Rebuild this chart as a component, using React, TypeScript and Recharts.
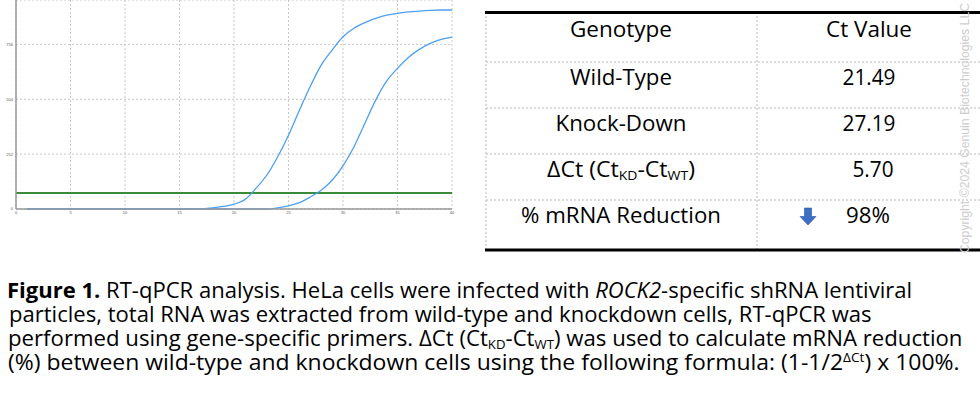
import React, { useLayoutEffect, useRef, useState } from 'react';
import { LineChart, Line, XAxis, YAxis, CartesianGrid, ReferenceLine } from 'recharts';

const cycles = [1, 2, 3, 4, 5, 6, 7, 8, 9, 10, 11, 12, 13, 14, 15, 16, 17, 18, 19, 20, 21, 22, 23, 24, 25, 26, 27, 28, 29, 30, 31, 32, 33, 34, 35, 36, 37, 38, 39, 40];
const wildType = [0, 0, 0, 0, 0, 0, 0, 0, 0, 0, 0, 0, 0, 0, 0, 0, 0, 5, 12, 22, 43, 94, 155, 239, 339, 454, 564, 661, 730, 791, 830, 856, 876, 890, 899, 905, 909, 912, 914, 914];
const knockDown = [0, 0, 0, 0, 0, 0, 0, 0, 0, 0, 0, 0, 0, 0, 0, 0, 0, 0, 0, 0, 0, 0, 0, 5, 14, 29, 55, 86, 132, 198, 285, 393, 500, 587, 646, 696, 733, 761, 779, 790];
const threshold = 74;
const xTicks = [0, 5, 10, 15, 20, 25, 30, 35, 40];
const yTicks = [0, 252, 504, 756];

const tableHeader = ['Genotype', 'Ct Value'];
const genotypes = ['Wild-Type', 'Knock-Down'];
const ctValues = ['21.49', '27.19'];
const deltaCt = '5.70';
const reduction = '98%';

const data = cycles.map((c, i) => ({ cycle: c, wt: wildType[i], kd: knockDown[i] }));

const FONT = '"Open Sans", "Noto Sans", sans-serif';

function FitText({ x, y, width, anchor = 'start', children, ...rest }: any) {
  const ref = useRef<SVGTextElement>(null);
  const [s, setS] = useState(1);
  useLayoutEffect(() => {
    if (ref.current) {
      const w = ref.current.getBBox().width;
      if (w > 0) setS(width / w);
    }
  }, [width]);
  return (
    <text
      ref={ref}
      x={x}
      y={y}
      textAnchor={anchor}
      transform={`translate(${x} 0) scale(${s} 1) translate(${-x} 0)`}
      {...rest}
    >
      {children}
    </text>
  );
}

function Table() {
  const left = 486;
  const right = 980;
  const mid = 757;
  const rowLines = [62, 108, 154, 200];
  const c1 = 621;
  return (
    <svg width={980} height={260} style={{ position: 'absolute', left: 0, top: 0 }}>
      {rowLines.map((y) => (
        <line key={y} x1={left} x2={right} y1={y} y2={y} stroke="#b8b8b8" strokeWidth={1} strokeDasharray="2 2" />
      ))}
      <line x1={left} x2={left} y1={12} y2={250} stroke="#b8b8b8" strokeWidth={1} strokeDasharray="2 2" />
      <line x1={mid} x2={mid} y1={12} y2={250} stroke="#b8b8b8" strokeWidth={1} strokeDasharray="2 2" />
      <line x1={left - 1} x2={right} y1={12.5} y2={12.5} stroke="#000" strokeWidth={3} />
      <line x1={left - 1} x2={right} y1={250} y2={250} stroke="#000" strokeWidth={3} />
      <g fontFamily={FONT} fontSize={21.5} fill="#000">
        <FitText x={c1} y={37} width={102} anchor="middle">{tableHeader[0]}</FitText>
        <FitText x={869} y={37} width={86} anchor="middle">{tableHeader[1]}</FitText>
        <FitText x={c1} y={85} width={102} anchor="middle">{genotypes[0]}</FitText>
        <FitText x={869} y={85} width={53} anchor="middle">{ctValues[0]}</FitText>
        <FitText x={c1} y={131} width={131} anchor="middle">{genotypes[1]}</FitText>
        <FitText x={869} y={131} width={53} anchor="middle">{ctValues[1]}</FitText>
        <FitText x={c1} y={177} width={148} anchor="middle">
          ΔCt (Ct<tspan fontSize={13} dy={3}>KD</tspan><tspan dy={-3}>-Ct</tspan><tspan fontSize={13} dy={3}>WT</tspan><tspan dy={-3}>)</tspan>
        </FitText>
        <FitText x={873} y={177} width={41} anchor="middle">{deltaCt}</FitText>
        <FitText x={c1} y={223} width={200} anchor="middle">% mRNA Reduction</FitText>
        <FitText x={868} y={223} width={44} anchor="middle">{reduction}</FitText>
      </g>
      <path d="M804.5,208 L811.5,208 L811.5,216.5 L816,216.5 L808,225 L800,216.5 L804.5,216.5 Z" fill="#3d6fc6" stroke="#2c55a0" strokeWidth={0.6} />
      <text
        x={0}
        y={0}
        transform="translate(969,253) rotate(-90)"
        fontFamily='"Liberation Sans", Arial, sans-serif'
        fontSize={13.5}
        fill="#cdcdcd"
        textLength={250}
        lengthAdjust="spacingAndGlyphs"
      >
        Copyright ©2024 Genuin Biotechnologies LLC
      </text>
    </svg>
  );
}

function Caption() {
  return (
    <svg width={980} height={399} style={{ position: 'absolute', left: 0, top: 0 }}>
      <g fontFamily={FONT} fontSize={21} fill="#000">
        <FitText x={7} y={298} width={906}>
          <tspan fontWeight={700}>Figure 1.</tspan> RT-qPCR analysis. HeLa cells were infected with <tspan fontStyle="italic">ROCK2</tspan>-specific shRNA lentiviral
        </FitText>
        <FitText x={9} y={322} width={863}>
          particles, total RNA was extracted from wild-type and knockdown cells, RT-qPCR was
        </FitText>
        <FitText x={8} y={346} width={955}>
          performed using gene-specific primers. ΔCt (Ct<tspan fontSize={12.5} dy={3}>KD</tspan><tspan dy={-3}>-Ct</tspan><tspan fontSize={12.5} dy={3}>WT</tspan><tspan dy={-3}>) was used to calculate mRNA reduction</tspan>
        </FitText>
        <FitText x={8} y={370} width={952}>
          (%) between wild-type and knockdown cells using the following formula: (1-1/2<tspan fontSize={12.5} dy={-8}>ΔCt</tspan><tspan dy={8}>) x 100%.</tspan>
        </FitText>
      </g>
    </svg>
  );
}

export default function App() {
  return (
    <div style={{ position: 'absolute', left: 0, top: 0, width: 980, height: 399, background: '#fff', overflow: 'hidden' }}>
      <div style={{ position: 'absolute', left: 0, top: 0 }}>
        <LineChart width={470} height={230} data={data} margin={{ top: 0, right: 18, bottom: 0, left: 0 }}>
          <CartesianGrid stroke="#c8c8c8" strokeDasharray="2 2" />
          <XAxis
            type="number"
            dataKey="cycle"
            domain={[0, 40]}
            ticks={xTicks}
            height={21}
            tickSize={2}
            tickMargin={0}
            tickLine={false}
            axisLine={{ stroke: '#999', strokeWidth: 1.5 }}
            tick={{ fontSize: 4, fill: '#555', fontFamily: 'Liberation Sans, sans-serif' }}
          />
          <YAxis
            type="number"
            domain={[0, 960]}
            ticks={yTicks}
            width={16}
            tickSize={3}
            tickMargin={0}
            tickLine={false}
            axisLine={{ stroke: '#999', strokeWidth: 1.5 }}
            tick={{ fontSize: 4, fill: '#555', fontFamily: 'Liberation Sans, sans-serif' }}
          />
          <ReferenceLine y={threshold} stroke="#3a8a3a" strokeWidth={2} />
          <Line type="monotone" dataKey="kd" stroke="#4d9ff0" strokeWidth={1.3} dot={false} isAnimationActive={false} />
          <Line type="monotone" dataKey="wt" stroke="#4d9ff0" strokeWidth={1.3} dot={false} isAnimationActive={false} />
        </LineChart>
      </div>
      <Table />
      <Caption />
    </div>
  );
}
